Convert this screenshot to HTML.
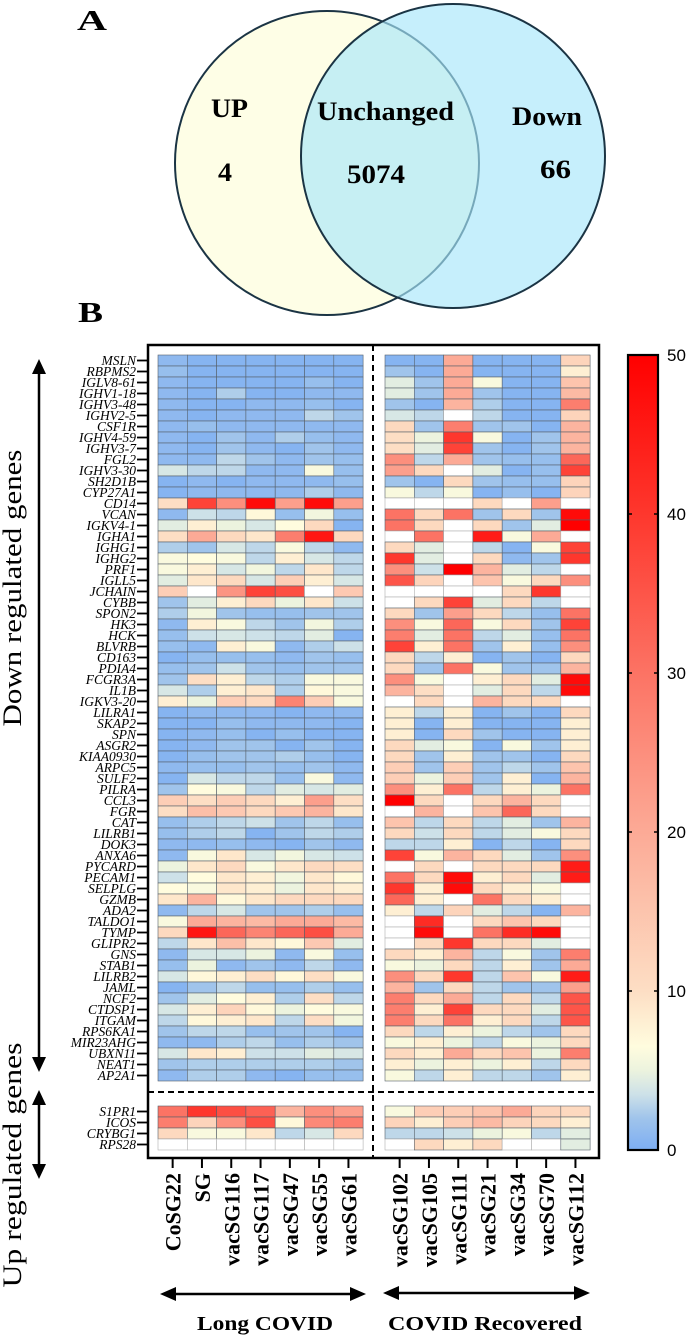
<!DOCTYPE html>
<html><head><meta charset="utf-8"><style>
html,body{margin:0;padding:0;background:#fff;}
svg{display:block;}
</style></head><body>
<svg id="fig" width="689" height="1336" viewBox="0 0 689 1336" xmlns="http://www.w3.org/2000/svg">
  <g>
    <text x="77" y="30" font-family="Liberation Serif, serif" font-weight="bold" font-size="28" textLength="30" lengthAdjust="spacingAndGlyphs">A</text>
    <circle cx="327" cy="163" r="152" fill="#fefee6" stroke="#1b3444" stroke-width="2"/>
    <circle cx="453" cy="156" r="152" fill="#a8e6fa" fill-opacity="0.65" stroke="#1b3444" stroke-width="2"/>
    <text x="211" y="117" font-family="Liberation Serif, serif" font-weight="bold" font-size="26" textLength="37" lengthAdjust="spacingAndGlyphs">UP</text>
    <text x="317" y="120" font-family="Liberation Serif, serif" font-weight="bold" font-size="26" textLength="137" lengthAdjust="spacingAndGlyphs">Unchanged</text>
    <text x="512" y="125" font-family="Liberation Serif, serif" font-weight="bold" font-size="26" textLength="70" lengthAdjust="spacingAndGlyphs">Down</text>
    <text x="218" y="181" font-family="Liberation Serif, serif" font-weight="bold" font-size="26" textLength="14" lengthAdjust="spacingAndGlyphs">4</text>
    <text x="347" y="183" font-family="Liberation Serif, serif" font-weight="bold" font-size="26" textLength="58" lengthAdjust="spacingAndGlyphs">5074</text>
    <text x="540" y="178" font-family="Liberation Serif, serif" font-weight="bold" font-size="26" textLength="31" lengthAdjust="spacingAndGlyphs">66</text>
  </g>
  <text x="78" y="322" font-family="Liberation Serif, serif" font-weight="bold" font-size="28" textLength="25" lengthAdjust="spacingAndGlyphs">B</text>
  <g id="heat"></g>
</svg>
<script>
const downGenes = ["MSLN","RBPMS2","IGLV8-61","IGHV1-18","IGHV3-48","IGHV2-5","CSF1R","IGHV4-59","IGHV3-7","FGL2","IGHV3-30","SH2D1B","CYP27A1","CD14","VCAN","IGKV4-1","IGHA1","IGHG1","IGHG2","PRF1","IGLL5","JCHAIN","CYBB","SPON2","HK3","HCK","BLVRB","CD163","PDIA4","FCGR3A","IL1B","IGKV3-20","LILRA1","SKAP2","SPN","ASGR2","KIAA0930","ARPC5","SULF2","PILRA","CCL3","FGR","CAT","LILRB1","DOK3","ANXA6","PYCARD","PECAM1","SELPLG","GZMB","ADA2","TALDO1","TYMP","GLIPR2","GNS","STAB1","LILRB2","JAML","NCF2","CTDSP1","ITGAM","RPS6KA1","MIR23AHG","UBXN11","NEAT1","AP2A1"];
const upGenes = ["S1PR1","ICOS","CRYBG1","RPS28"];
const longCovidSamples = ["CoSG22","SG","vacSG116","vacSG117","vacSG47","vacSG55","vacSG61"];
const recoveredSamples = ["vacSG102","vacSG105","vacSG111","vacSG21","vacSG34","vacSG70","vacSG112"];
const colorbarTicks = [0,10,20,30,40,50];
const N = null;
const longCovidDown = [
[1,0.5,0.5,0.5,0.5,0.5,0.5],[1.5,0.5,0.5,0.5,0.5,0.5,0.5],[1,0.5,0.5,0.5,0.5,1.5,0.5],[1,0.5,2.5,0.5,0.5,1,1],
[1,0.5,0.5,1,1,1.5,0.5],[1,0.5,1,1,1,3,2],[1,1.5,1,1,1,1,1],[1,0.5,2,1,2.5,1.5,1],
[1,0.5,2,1,0.5,2,1],[1,1,3,2,1,2,1.5],[4,3,3,1,1,6,1.5],[0.5,1,0.5,1,1,1,1.5],
[0.5,1,1,1,1,2.5,1],[10,38,25,48,22,48,22],[1,3.5,3,7,1.5,5.5,1.5],[4.5,8,5,4,6.5,11,0.5],
[10,20,11,9,28,46,11],[2.5,2,4,3,6,3,1],[6,6.5,6,3,8,4,3],[6,8,4,5.5,3,9,3],
[4.5,9,11,4,13,8,4],[13,N,24,38,36,N,14],[2,4.5,8,11,5,9,3.5],[2.5,5.5,2,1.5,1.5,2,2],
[1,8,6,3,2,5.5,2.5],[1.5,3.5,4,3.5,3,4.5,0.5],[1.5,1,8,6,1,2.5,3.5],[0.5,1.5,1.5,1.5,1,2,1.5],
[1.5,2,3.5,2,1.5,2,2],[2,10,8,3,2.5,6,6],[4,2.5,8,9,2.5,7,6],[8,5,13,11,27,13,6],
[0.5,1,1,1,0.5,1,1],[0.5,0.5,1.5,1,1,1,0.5],[0.5,1,1.5,0.5,1.5,0.5,0.5],[0.5,1,2,2,0.5,2,0.5],
[0.5,1.5,2,2,2.5,1.5,0.5],[1,1.5,1.5,2,1.5,2,1],[0.5,4,3,3,1.5,6,1],[2,6.5,6,3,4.5,4,4.5],
[13,10,13,11,8,22,10],[10,16,14,11,14,18,9],[1.5,2.5,3,3.5,2,3,1.5],[1.5,2.5,3,0.5,2,3,2.5],
[1,1,1.5,1,0.5,2,1],[1,6,9,4,5.5,4,3.5],[5,9,11,6,9,11,10],[3.5,6.5,9,8,5.5,9,7],
[6.5,6,9,8,5,9,8],[9,18,7,9,11,11,11],[1,3,4,2,2,2.5,1.5],[6,20,18,17,20,20,17],
[11,46,32,27,32,36,20],[3,9,16,9,7,14,4.5],[1,4,4,5,1,6,1.5],[1.5,5,1,2,1,3,1],
[4,7,8,10,7,10,6],[0.5,2,3,1.5,1.5,2.5,1.5],[2,4.5,6.5,8,2.5,10,3],[4,8,12,7,5,6.5,6],
[3,7,8,9,3,10,5.5],[2,3,3,1.5,2,2,0.5],[1,1,2.5,3,1.5,2.5,2],[4,9,8,3.5,3.5,4.5,4],
[2,2.5,2.5,2.5,2.5,2.5,2],[1,2.5,2.5,1,0.5,1.5,1.5]];
const recoveredDown = [
[0.5,0.5,20,0.5,0.5,0.5,12],[2,0.5,20,0.5,0.5,0.5,8],[4.5,2,20,6,0.5,0.5,15],[4.5,2,20,2,0.5,0.5,17],
[2,0.5,18,2.5,0.5,0.5,28],[4,3,N,3,0.5,0.5,12],[11,2,28,2,2,0.5,18],[10,5,40,6,0.5,2,18],
[10,4.5,38,2,0.5,2,18],[25,3,20,2,1.5,1.5,32],[22,11,N,4.5,0.5,1.5,38],[2,0.5,11,2,1.5,1.5,12],
[6,3,6,0.5,1.5,0.5,12],[N,N,N,11,N,22,N],[30,11,30,2,11,2,48],[30,11,N,11,2,4.5,50],
[N,30,N,45,6,20,N],[11,4.5,N,3,0.5,6,38],[40,4.5,N,11,1,2,40],[25,3.5,50,18,4.5,3,N],
[35,12,N,15,6,11,25],[N,N,N,N,11,40,N],[N,11,38,4.5,11,3,N],[11,2,22,11,3,1.5,30],
[25,6,32,6,11,2,38],[28,4.5,30,3,4.5,1.5,30],[38,8,30,2,8,1.5,25],[11,3,8,0.5,2,0.5,11],
[11,2,30,6,2,2,18],[25,6,N,8,11,4.5,48],[18,10,N,4.5,11,3,48],[N,11,N,18,11,11,N],
[8,3,8,0.5,2,0.5,11],[8,0.5,8,0.5,0.5,0.5,8],[8,0.5,11,2,0.5,0.5,8],[11,4.5,6,0.5,6,2,8],
[11,2,8,2,2,0.5,11],[13,2,13,2,3,2,15],[13,5,13,2,8,0.5,18],[25,8,30,3,8,5,30],
[50,11,N,11,18,11,N],[N,18,N,15,32,11,N],[15,3,11,3,4.5,2,18],[11,3.5,11,3,4.5,6,11],
[3,3,8,0.5,3,0.5,11],[38,6,18,11,4.5,2,25],[N,11,N,11,11,11,45],[30,11,48,8,11,4.5,45],
[40,8,48,11,8,6,N],[32,8,N,30,11,8,N],[8,3,12,4.5,3,0.5,18],[N,42,N,11,15,11,N],
[N,48,N,30,42,48,N],[N,11,40,11,11,4.5,N],[11,8,18,3,6,2,28],[6,5,11,3,8,2,20],
[25,11,40,3,15,6,45],[18,2,11,3,2,2,22],[28,11,20,3,11,3,35],[28,8,38,11,11,4.5,35],
[28,11,30,8,11,3,35],[11,3,8,5,3,2,11],[6,8,5,3,6,5,11],[11,8,20,11,15,5,28],
[8,5,8,5,8,3,11],[6,3,8,3,3,2,8]];
const longCovidUp = [[30,40,36,33,18,25,22],[28,12,25,36,7,26,28],[11,6,6,9,3,4,11],[N,N,N,N,N,N,N]];
const recoveredUp = [[6,13,13,15,20,12,11],[12,8,13,17,12,11,8],[3,3,3.5,5,6,3,4.5],[N,11,8,11,N,N,4.5]];

const STOPS = [[0,[125,174,243]],[2,[160,196,235]],[3.5,[205,225,232]],[5,[236,243,222]],[6.5,[255,252,222]],[10,[253,222,196]],[20,[252,170,150]],[30,[252,115,100]],[40,[254,55,45]],[50,[255,0,0]]];
function colorOf(v){
  if(v===null) return '#ffffff';
  v=Math.max(0,Math.min(50,v));
  for(let i=1;i<STOPS.length;i++){
    if(v<=STOPS[i][0]){
      const a=STOPS[i-1],b=STOPS[i],t=(v-a[0])/(b[0]-a[0]);
      const c=a[1].map((x,k)=>Math.round(x+(b[1][k]-x)*t));
      return 'rgb('+c.join(',')+')';
    }
  }
  return 'rgb(255,0,0)';
}
const NS='http://www.w3.org/2000/svg';
const g=document.getElementById('heat');
function mk(tag,attrs,parent){const e=document.createElementNS(NS,tag);for(const k in attrs)e.setAttribute(k,attrs[k]);(parent||g).appendChild(e);return e;}

const cellW=29.3, cellH=11;
const leftX0=158, rightX0=385, downY0=355, upY0=1106;
const xCol=(panelX0,j)=>panelX0+j*cellW;
const yDown=i=>downY0+i*cellH;
const yUp=i=>upY0+i*cellH;
const cbTop=355, cbBot=1150;
const yColor=v=>cbBot-(v/50)*(cbBot-cbTop);

let el=mk('rect',{x:148,y:345,width:451,height:813,fill:'none',stroke:'#000','stroke-width':2.5});


el=mk('line',{x1:373,y1:345,x2:373,y2:1158,stroke:'#000','stroke-width':2,'stroke-dasharray':'6,4'});


el=mk('line',{x1:148,y1:1092,x2:599,y2:1092,stroke:'#000','stroke-width':2,'stroke-dasharray':'6,4'});



function drawCells(vals,panelX0,yFn,genes,prefix){
  vals.forEach((row,i)=>{
    row.forEach((v,j)=>{
      const r=mk('rect',{x:xCol(panelX0,j),y:yFn(i),width:cellW,height:cellH,fill:colorOf(v),stroke:v===null?'#b0b0b0':'#56606a','stroke-width':0.6});
      
      
    });
  });
}
drawCells(longCovidDown,leftX0,yDown,downGenes,'long');
drawCells(recoveredDown,rightX0,yDown,downGenes,'recovered');
drawCells(longCovidUp,leftX0,yUp,upGenes,'long');
drawCells(recoveredUp,rightX0,yUp,upGenes,'recovered');

function geneLabels(genes,yFn){
  genes.forEach((name,i)=>{
    const yc=yFn(i)+cellH/2;
    const t=mk('text',{x:136,y:yc+4.5,'text-anchor':'end','font-family':'Liberation Serif, serif','font-style':'italic','font-size':13.5});
    t.textContent=name;
    
    
    const l=mk('line',{x1:137,y1:yc,x2:148,y2:yc,stroke:'#000','stroke-width':1.8});
    
    
  });
}
geneLabels(downGenes,yDown);
geneLabels(upGenes,yUp);

function sampleLabels(samples,panelX0){
  samples.forEach((s,j)=>{
    const cx=xCol(panelX0,j)+cellW/2;
    const l=mk('line',{x1:cx,y1:1158,x2:cx,y2:1168,stroke:'#000','stroke-width':2});
    
    
    const t=mk('text',{x:0,y:0,transform:'translate('+(cx+8)+',1173) rotate(-90)','text-anchor':'end','font-family':'Liberation Serif, serif','font-weight':'bold','font-size':22});
    t.textContent=s;
    
    
  });
}
sampleLabels(longCovidSamples,leftX0);
sampleLabels(recoveredSamples,rightX0);

const defs=mk('defs',{});
const grad=mk('linearGradient',{id:'cbg',x1:0,y1:1,x2:0,y2:0},defs);
STOPS.forEach(s=>{mk('stop',{offset:(s[0]/50),'stop-color':colorOf(s[0])},grad);});
el=mk('rect',{x:628,y:cbTop,width:30,height:cbBot-cbTop,fill:'url(#cbg)',stroke:'#000','stroke-width':2.2});


colorbarTicks.forEach(v=>{
  const y=yColor(v);
  if(v>0&&v<50){
    const a=mk('line',{x1:628,y1:y,x2:632,y2:y,stroke:'#000','stroke-width':1.5});
    
    
    const b=mk('line',{x1:654,y1:y,x2:658,y2:y,stroke:'#000','stroke-width':1.5});
    
    
  }
  const t=mk('text',{x:667,y:y+6,'font-family':'Liberation Sans, sans-serif','font-size':17});
  t.textContent=String(v);
  
  
});

function arrowV(x,y1,y2,name){
  const l=mk('line',{x1:x,y1:y1+12,x2:x,y2:y2-12,stroke:'#000','stroke-width':2.5});
  
  
  const p=mk('path',{d:'M'+x+' '+y1+' L'+(x-7)+' '+(y1+15)+' L'+(x+7)+' '+(y1+15)+' Z M'+x+' '+y2+' L'+(x-7)+' '+(y2-15)+' L'+(x+7)+' '+(y2-15)+' Z',fill:'#000'});
  
  
}
function arrowH(x1,x2,y,name){
  const l=mk('line',{x1:x1+12,y1:y,x2:x2-12,y2:y,stroke:'#000','stroke-width':2.5});
  
  
  const p=mk('path',{d:'M'+x1+' '+y+' L'+(x1+16)+' '+(y-7)+' L'+(x1+16)+' '+(y+7)+' Z M'+x2+' '+y+' L'+(x2-16)+' '+(y-7)+' L'+(x2-16)+' '+(y+7)+' Z',fill:'#000'});
  
  
}
arrowV(39,359,1072,'down-genes-arrow');
arrowV(39,1090,1179,'up-genes-arrow');
arrowH(160,366,1294,'long-covid-arrow');
arrowH(383,590,1293,'recovered-arrow');

function rotLabel(txt,cx,cy,len,name){
  const t=mk('text',{x:0,y:0,transform:'translate('+cx+','+cy+') rotate(-90)','text-anchor':'middle','font-family':'Liberation Serif, serif','font-size':26,textLength:len,lengthAdjust:'spacingAndGlyphs'});
  t.textContent=txt;
  
  
}
rotLabel('Down regulated genes',21,588,277,'down-regulated-title');
rotLabel('Up regulated genes',21,1165,245,'up-regulated-title');

function grpLabel(txt,cx,len,name){
  const t=mk('text',{x:cx,y:1330,'text-anchor':'middle','font-family':'Liberation Serif, serif','font-weight':'bold','font-size':20,textLength:len,lengthAdjust:'spacingAndGlyphs'});
  t.textContent=txt;
  
  
}
grpLabel('Long COVID',265,136,'long-covid-title');
grpLabel('COVID Recovered',485,194,'covid-recovered-title');
</script>
</body></html>
